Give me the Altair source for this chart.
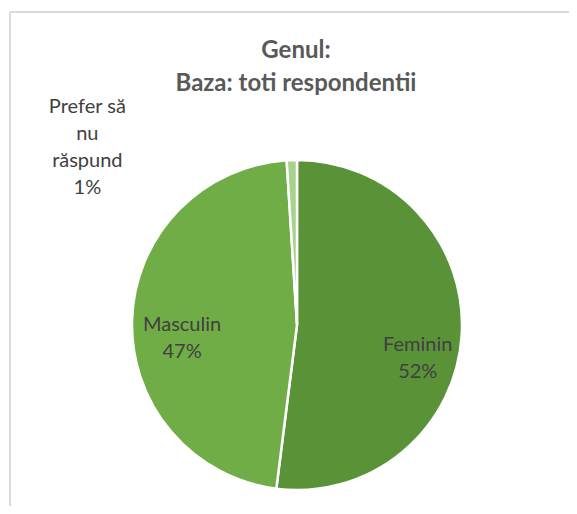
import altair as alt
import pandas as pd

categories = ["Feminin", "Masculin", "Prefer să nu răspund"]
label_texts = ["Feminin\n52%", "Masculin\n47%", "Prefer să\nnu\nrăspund\n1%"]
values = [52, 47, 1]
colors = ["#5a9237", "#70ad47", "#a9d18e"]
title_lines = ["Genul:", "Baza: toti respondentii"]

df = pd.DataFrame({
    "cat": categories,
    "label": label_texts,
    "value": values,
    "idx": list(range(len(categories))),
})

W, H = 559, 494
CX, CY = 287, 313
R = 165
FONT = "Lato"
TOTAL = sum(values)

pie = alt.Chart(df).mark_arc(outerRadius=R, stroke="white", strokeWidth=2.5).encode(
    theta=alt.Theta("value:Q", stack=True, scale=alt.Scale(domain=[0, TOTAL])),
    order=alt.Order("idx:Q"),
    color=alt.Color("cat:N", scale=alt.Scale(domain=categories, range=colors), legend=None),
    x=alt.value(CX), y=alt.value(CY),
)

stacked = alt.Chart(df).transform_window(
    cum="sum(value)", sort=[alt.SortField("idx")]
).transform_calculate(mid="datum.cum - datum.value / 2")

def label_layer(cat, radius, dx, dy):
    return stacked.transform_filter(alt.datum.cat == cat).mark_text(
        radius=radius, dx=dx, dy=dy, font=FONT, fontSize=20, color="#404040",
        lineBreak="\n", lineHeight=27, align="center", baseline="middle",
    ).encode(
        theta=alt.Theta("mid:Q", scale=alt.Scale(domain=[0, TOTAL])),
        text="label:N", x=alt.value(CX), y=alt.value(CY),
    )

labels = (
    label_layer(categories[0], 121, 0, 12)
    + label_layer(categories[1], 115, 0, 4)
    + label_layer(categories[2], 180, -204, -38)
)

tdf = pd.DataFrame({"line": title_lines, "row": [0, 1]})
def title_layer(row, y):
    return alt.Chart(tdf).transform_filter(alt.datum.row == row).mark_text(
        font=FONT, fontSize=24, fontWeight="bold", color="#595959", align="center", baseline="middle"
    ).encode(text="line:N", x=alt.value(286), y=alt.value(y))

title1 = title_layer(0, 39)
title2 = title_layer(1, 72)

border_top = alt.Chart(tdf).mark_rule(color="#d9d9d9", strokeWidth=1.5).encode(
    x=alt.value(0), x2=alt.value(W), y=alt.value(0)
)
border_left = alt.Chart(tdf).mark_rule(color="#d9d9d9", strokeWidth=1.5).encode(
    x=alt.value(0), y=alt.value(0), y2=alt.value(H)
)

chart = alt.layer(border_top, border_left, pie, labels, title1, title2).properties(
    width=W, height=H,
    autosize=alt.AutoSizeParams(type="none"),
    padding={"left": 2, "top": 4, "right": 0, "bottom": 0},
).configure_view(stroke=None).configure(background="white")

chart.save("out.html", embed_options={"renderer": "svg", "actions": False})
